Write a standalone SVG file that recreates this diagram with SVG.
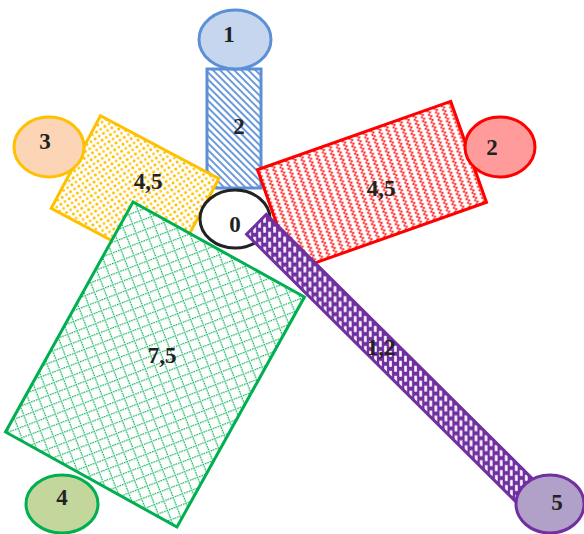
<svg xmlns="http://www.w3.org/2000/svg" width="584" height="534" viewBox="0 0 584 534">
<style>
text{font-family:"Liberation Serif","Times New Roman",serif;font-weight:bold;font-size:23px;fill:#222;text-anchor:middle}
.sw{stroke-width:3}
</style>
<defs>
<pattern id="pBlue" width="5" height="5" patternUnits="userSpaceOnUse" patternTransform="rotate(-45)">
<rect width="5" height="5" fill="#fff"/><line x1="1" y1="0" x2="1" y2="5" stroke="#5b8fd6" stroke-width="1.8"/>
</pattern>
<pattern id="pYellow" width="10" height="10" patternUnits="userSpaceOnUse" patternTransform="rotate(28)">
<rect width="10" height="10" fill="#fff"/>
<path d="M1,2.5 H4 M2.5,1 V4 M6,7.5 H9 M7.5,6 V9" stroke="#ffc000" stroke-width="1.6"/>
<path d="M6,2.5 H9 M7.5,1 V4 M1,7.5 H4 M2.5,6 V9" stroke="#ffc000" stroke-width="1.4" opacity="0.85"/>
</pattern>
<pattern id="pRed" width="7.5" height="8" patternUnits="userSpaceOnUse">
<rect width="7.5" height="8" fill="#fff"/>
<path d="M1.5,0 L5,2 L1.5,4 L5,6 L1.5,8" fill="none" stroke="#ff0000" stroke-width="1" opacity="0.9"/>
</pattern>
<pattern id="pGreen" width="10" height="10" patternUnits="userSpaceOnUse" patternTransform="rotate(40)">
<rect width="10" height="10" fill="#fff"/>
<path d="M0,0.6 H10 M0.6,0 V10" fill="none" stroke="#00b050" stroke-width="1.3" stroke-dasharray="1.6 0.9"/>
</pattern>
<pattern id="pPurple" width="10" height="10" patternUnits="userSpaceOnUse" patternTransform="rotate(44.8)">
<rect width="10" height="10" fill="#7030a0"/>
<rect x="0.8" y="1.2" width="6" height="2.6" fill="#fff"/>
<rect x="5.8" y="6.2" width="6" height="2.6" fill="#fff"/>
<rect x="-4.2" y="6.2" width="6" height="2.6" fill="#fff"/>
</pattern>
</defs>
<g id="connectors">
<g id="bar2"><rect class="sw" x="207" y="69" width="54" height="119" fill="url(#pBlue)" stroke="#5b8fd6"/><text x="239" y="134">2</text></g>
<g id="bar45a"><rect class="sw" x="-67" y="-52.5" width="134" height="105" transform="translate(135,193.5) rotate(28)" fill="url(#pYellow)" stroke="#ffc000"/></g>
</g>
<g id="node0"><ellipse class="sw" cx="235" cy="219" rx="35" ry="29" fill="#fff" stroke="#222"/><text x="235" y="232">0</text></g>
<g id="connectors2">
<g id="bar75"><rect class="sw" x="-98" y="-131.5" width="196" height="263" transform="translate(155,364.5) rotate(29)" fill="url(#pGreen)" stroke="#00b050"/></g>
<g id="bar45b"><rect class="sw" x="-102.5" y="-53.5" width="205" height="107" transform="translate(372,186) rotate(-19.5)" fill="url(#pRed)" stroke="#ff0000"/></g>
<g id="bar12"><rect class="sw" x="-192.5" y="-14" width="385" height="28" transform="translate(393,360) rotate(44.8)" fill="url(#pPurple)" stroke="#7030a0"/></g>
<text x="148" y="189">4,5</text>
<text x="381" y="196">4,5</text>
<text x="162" y="363">7,5</text>
<text x="381" y="355">1,2</text>
</g>
<g id="node1"><ellipse class="sw" cx="235" cy="39.5" rx="36" ry="29.5" fill="#c5d6ee" stroke="#5b8fd6"/><text x="229" y="42">1</text></g>
<g id="node3"><ellipse class="sw" cx="49" cy="147" rx="35" ry="30" fill="#fbd5b5" stroke="#ffc000"/><text x="45" y="149">3</text></g>
<g id="node2"><ellipse class="sw" cx="500" cy="147" rx="35" ry="30" fill="#ff9b9b" stroke="#ff0000"/><text x="492" y="155">2</text></g>
<g id="node4"><ellipse class="sw" cx="62" cy="504" rx="36" ry="29" fill="#c3d69b" stroke="#00b050"/><text x="62" y="505">4</text></g>
<g id="node5"><ellipse class="sw" cx="550" cy="504" rx="34" ry="29" fill="#b1a0c7" stroke="#7030a0"/><text x="557" y="510">5</text></g>
</svg>
